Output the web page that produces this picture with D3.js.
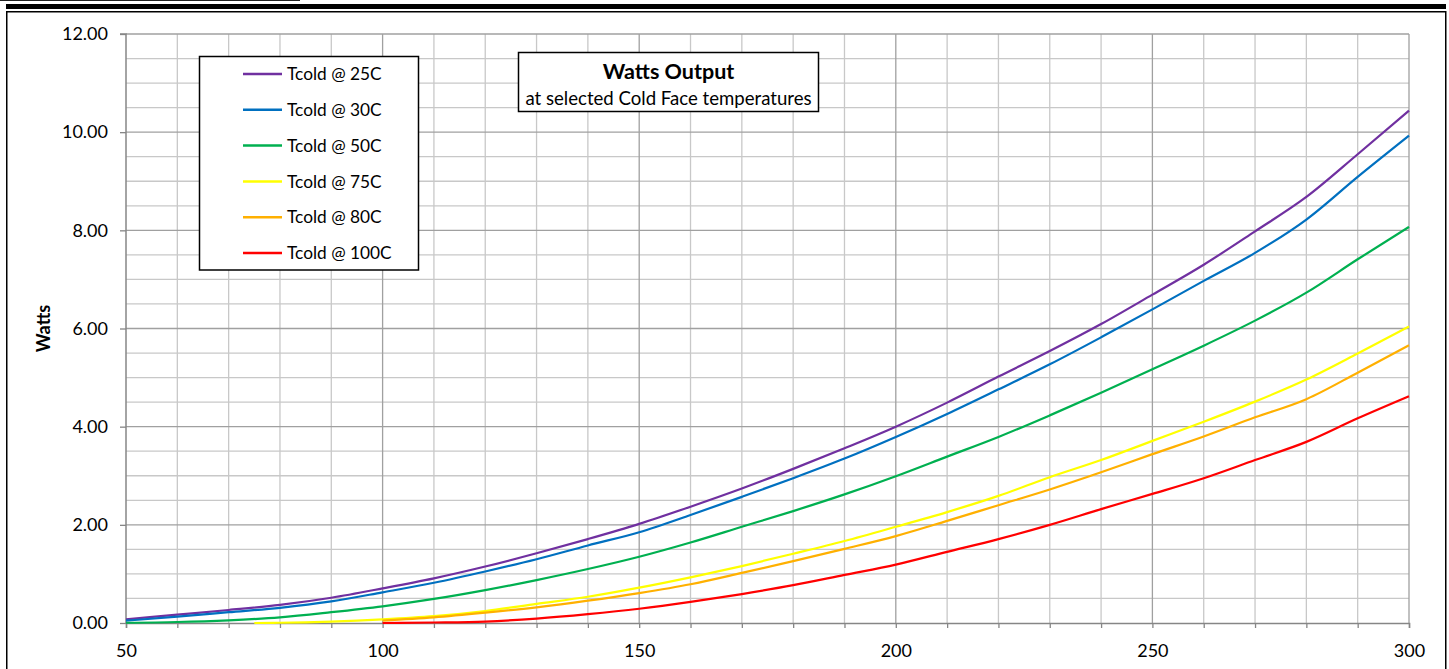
<!DOCTYPE html>
<html>
<head>
<meta charset="utf-8">
<script src="https://cdn.jsdelivr.net/npm/d3@7"></script>
<style>
  html, body { margin: 0; padding: 0; background: #fff; }
  svg { display: block; font-family: Lato, "Open Sans", sans-serif; }
</style>
</head>
<body>
<svg id="chart" width="1449" height="669"></svg>
<script>
// ---- data ----
const xMain = [50,60,70,80,90,100,110,120,130,140,150,160,170,180,190,200,210,220,230,240,250,260,270,280,290,300];
const xFrom75 = [75,80,90,100,110,120,130,140,150,160,170,180,190,200,210,220,230,240,250,260,270,280,290,300];
const xFrom100 = [100,110,120,130,140,150,160,170,180,190,200,210,220,230,240,250,260,270,280,290,300];

const tcold25 = [0.075,0.17,0.265,0.37,0.515,0.705,0.91,1.15,1.42,1.71,2.02,2.37,2.74,3.14,3.56,4.00,4.49,5.02,5.54,6.09,6.69,7.30,7.98,8.68,9.55,10.44];
const tcold30 = [0.047,0.13,0.22,0.31,0.44,0.625,0.82,1.05,1.30,1.58,1.85,2.20,2.57,2.95,3.35,3.79,4.26,4.76,5.27,5.82,6.39,6.97,7.54,8.22,9.09,9.93];
const tcold50 = [0.005,0.02,0.055,0.115,0.22,0.34,0.49,0.67,0.875,1.10,1.35,1.64,1.96,2.28,2.62,2.99,3.39,3.79,4.23,4.69,5.17,5.65,6.16,6.73,7.41,8.07];
const tcold75 = [0.0,0.005,0.03,0.075,0.14,0.245,0.39,0.535,0.72,0.93,1.16,1.41,1.67,1.96,2.26,2.59,2.97,3.32,3.71,4.10,4.51,4.96,5.49,6.04];
const tcold80 = [0.05,0.115,0.21,0.32,0.455,0.61,0.79,1.02,1.26,1.51,1.77,2.08,2.40,2.72,3.07,3.44,3.80,4.19,4.56,5.10,5.66];
const tcold100 = [0.0,0.01,0.03,0.09,0.18,0.29,0.43,0.59,0.77,0.98,1.19,1.45,1.71,2.00,2.32,2.63,2.95,3.32,3.69,4.17,4.62];

const seriesNames = ["Tcold @ 25C","Tcold @ 30C","Tcold @ 50C","Tcold @ 75C","Tcold @ 80C","Tcold @ 100C"];
const seriesColors = ["#7030a0","#0070c0","#00b050","#ffff00","#ffb000","#ff0000"];
const seriesX = [xMain, xMain, xMain, xFrom75, xFrom100, xFrom100];
const seriesY = [tcold25, tcold30, tcold50, tcold75, tcold80, tcold100];

const yTickValues = [0,2,4,6,8,10,12];
const xTickLabelValues = [50,100,150,200,250,300];
const titleText = "Watts Output";
const subtitleText = "at selected Cold Face temperatures";
const yAxisTitle = "Watts";

// ---- drawing ----
const svg = d3.select("#chart");

// page decorations
svg.append("line").attr("x1",0).attr("x2",300).attr("y1",0.5).attr("y2",0.5)
  .attr("stroke","#222").attr("stroke-width",1.2);
svg.append("rect").attr("x",6).attr("y",4).attr("width",1440).attr("height",5).attr("fill","#000");
svg.append("rect").attr("x",6.75).attr("y",11.75).attr("width",1439).attr("height",700)
  .attr("fill","#fff").attr("stroke","#000").attr("stroke-width",1.5);

const x = d3.scaleLinear().domain([50,300]).range([126,1409]);
const y = d3.scaleLinear().domain([0,12]).range([623,34]);

const grid = svg.append("g");
const minorX = d3.range(60, 301, 10).filter(v => v % 50 !== 0);
const majorX = d3.range(100, 301, 50);
const minorY = d3.range(0.5, 12.01, 0.5).filter(v => Math.abs(v % 2) > 1e-9);
const majorY = d3.range(2, 12.01, 2);

grid.selectAll(".mnx").data(minorX).join("line")
  .attr("x1", d => x(d)).attr("x2", d => x(d)).attr("y1", y(12)).attr("y2", y(0))
  .attr("stroke","#c8c8c8").attr("stroke-width",1.3);
grid.selectAll(".mny").data(minorY).join("line")
  .attr("x1", x(50)).attr("x2", x(300)).attr("y1", d => y(d)).attr("y2", d => y(d))
  .attr("stroke","#c8c8c8").attr("stroke-width",1.3);
grid.selectAll(".mjx").data(majorX).join("line")
  .attr("x1", d => x(d)).attr("x2", d => x(d)).attr("y1", y(12)).attr("y2", y(0))
  .attr("stroke","#a0a0a0").attr("stroke-width",1.3);
grid.selectAll(".mjy").data(majorY).join("line")
  .attr("x1", x(50)).attr("x2", x(300)).attr("y1", d => y(d)).attr("y2", d => y(d))
  .attr("stroke","#a0a0a0").attr("stroke-width",1.3);

// axes
const yAxis = svg.append("g").attr("transform", `translate(${x(50)},0)`)
  .call(d3.axisLeft(y).tickValues(yTickValues).tickFormat(d3.format(".2f")).tickSize(6).tickPadding(12));
const xAxis = svg.append("g").attr("transform", `translate(0,${y(0)})`)
  .call(d3.axisBottom(x).tickValues(d3.range(50, 301, 10))
    .tickFormat(d => xTickLabelValues.includes(d) ? d : "").tickSize(5).tickPadding(16));
[yAxis, xAxis].forEach(a => {
  a.select(".domain").attr("stroke","#868686").attr("stroke-width",1.5);
  a.selectAll(".tick line").attr("stroke","#868686").attr("stroke-width",1.3);
  a.selectAll("text").attr("fill","#000").style("font-family","Lato, sans-serif").style("font-size","18px");
});
yAxis.select(".domain").attr("d", `M-6,${y(12)}H0V${y(0)}`);

// y axis title
svg.append("text").attr("transform", `translate(50,${(y(0)+y(12))/2}) rotate(-90)`)
  .attr("text-anchor","middle").attr("font-weight","bold").attr("font-size","18px").text(yAxisTitle);

// lines
const lineGen = d3.line().x(d => x(d[0])).y(d => y(d[1])).curve(d3.curveMonotoneX);
const linesG = svg.append("g");
seriesY.forEach((vals, i) => {
  const pts = seriesX[i].map((xv, j) => [xv, vals[j]]);
  linesG.append("path").attr("d", lineGen(pts)).attr("fill","none")
    .attr("stroke", seriesColors[i]).attr("stroke-width",2.2).attr("stroke-linejoin","round");
});

// legend
const lg = svg.append("g");
lg.append("rect").attr("x",199.5).attr("y",56.5).attr("width",219).attr("height",213.5)
  .attr("fill","#fff").attr("stroke","#000").attr("stroke-width",1.5);
const rowY = d3.scalePoint().domain(seriesNames).range([74, 253]);
seriesNames.forEach((name, i) => {
  lg.append("line").attr("x1",243).attr("x2",282).attr("y1",rowY(name)).attr("y2",rowY(name))
    .attr("stroke",seriesColors[i]).attr("stroke-width",2.5);
  lg.append("text").attr("x",287).attr("y",rowY(name)).attr("dy","0.36em")
    .attr("font-size","17.3px").attr("fill","#000").text(name);
});

// title box
const tb = svg.append("g");
tb.append("rect").attr("x",518.5).attr("y",52.5).attr("width",300).attr("height",59)
  .attr("fill","#fff").attr("stroke","#000").attr("stroke-width",1.5);
tb.append("text").attr("x",668.5).attr("y",79).attr("text-anchor","middle")
  .attr("font-weight","bold").attr("font-size","21.5px").text(titleText);
tb.append("text").attr("x",668.5).attr("y",104.5).attr("text-anchor","middle")
  .attr("font-size","18.6px").text(subtitleText);
</script>
</body>
</html>
